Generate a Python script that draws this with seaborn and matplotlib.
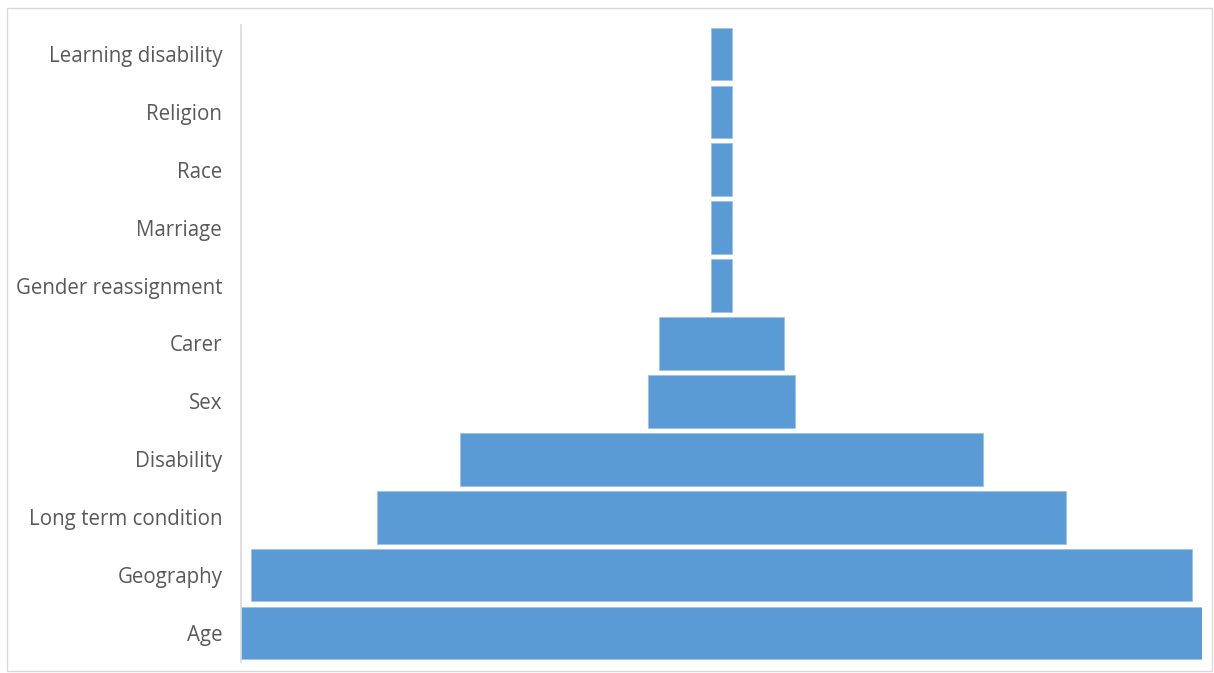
import numpy as np
import pandas as pd
from matplotlib import pyplot as plt
from matplotlib.patches import Rectangle
import seaborn as sns

categories = ["Learning disability", "Religion", "Race", "Marriage", "Gender reassignment",
              "Carer", "Sex", "Disability", "Long term condition", "Geography", "Age"]
counts = [1, 1, 1, 1, 1, 6, 7, 25, 33, 45, 46]

df = pd.DataFrame({"category": categories, "count": counts})

sns.set_style("white")
plt.rcParams['font.family'] = ['Open Sans', 'DejaVu Sans']

fig = plt.figure(figsize=(12.14, 6.73), dpi=100)
ax = fig.add_axes([241 / 1214, 11 / 673, 961 / 1214, 637 / 673])

sns.barplot(data=df, x="count", y="category", order=categories, color="#5B9BD5",
            saturation=1, width=0.91, edgecolor="#9DC3E6", linewidth=0.6, ax=ax)

# centre every bar to get the funnel shape
for p in ax.patches:
    p.set_x(-p.get_width() / 2)

half = max(counts) / 2
ax.set_xlim(-half, half)
ax.set_ylim(len(categories) - 0.5, -0.5)

ax.set_xlabel("")
ax.set_ylabel("")
ax.set_xticks([])
ax.tick_params(axis="y", length=0, pad=13.5, labelsize=14.8, labelcolor="#595959")
for lbl in ax.get_yticklabels():
    lbl.set_va("center_baseline")

for side in ["top", "right", "bottom"]:
    ax.spines[side].set_visible(False)
ax.spines["left"].set_color("#d9d9d9")
ax.spines["left"].set_linewidth(1.2)

# thin chart-area border
fig.patches.append(Rectangle((7 / 1214, 2 / 673), 1205 / 1214, 663 / 673,
                             transform=fig.transFigure, fill=False,
                             edgecolor="#d9d9d9", linewidth=1.0))

fig.savefig("out.png", dpi=100)
